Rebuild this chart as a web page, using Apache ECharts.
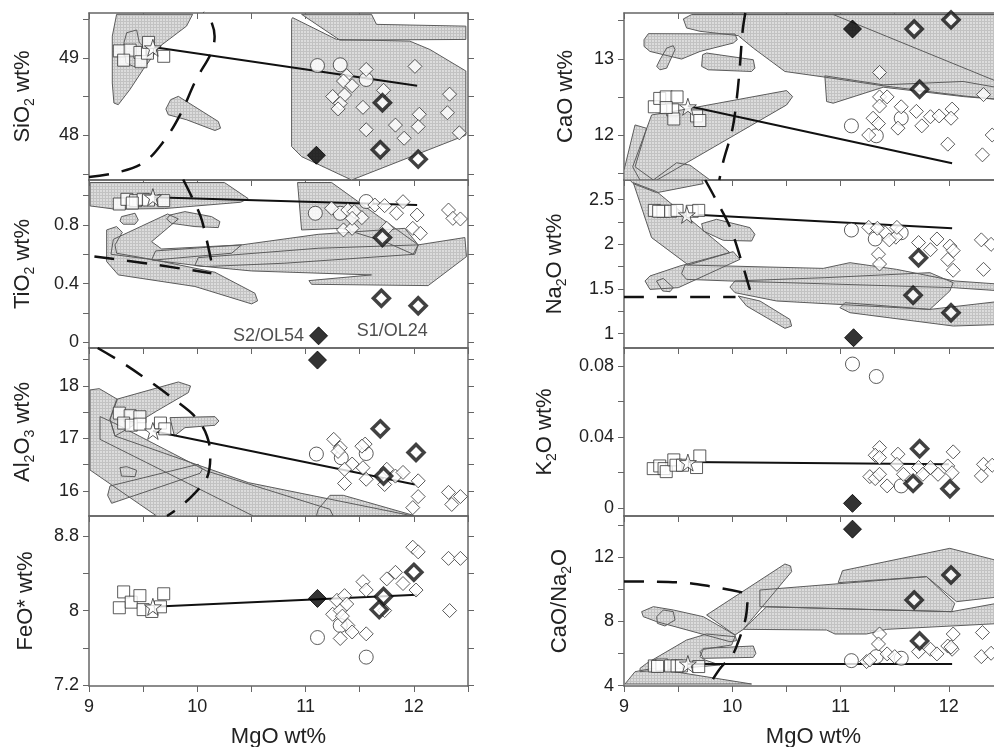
<!DOCTYPE html>
<html>
<head>
<meta charset="utf-8">
<title>MgO variation diagrams</title>
<script src="https://cdn.jsdelivr.net/npm/echarts@6.0.0/dist/echarts.min.js"></script>
<style>
  html, body { margin: 0; padding: 0; background: #fff; }
  #chart { width: 994px; height: 747px; }
</style>
</head>
<body>
<div id="chart"></div>
<script>
// Panels: 0-3 left column (top to bottom), 4-7 right column
const panelNames = ['SiO{s|2} wt%', 'TiO{s|2} wt%', 'Al{s|2}O{s|3} wt%', 'FeO* wt%',
                    'CaO wt%', 'Na{s|2}O wt%', 'K{s|2}O wt%', 'CaO/Na{s|2}O'];
const xName = 'MgO wt%';
const yMin = [47.42, -0.04, 15.52, 7.19, 11.41, 0.84, -0.0043, 3.98];
const yMax = [49.58, 1.107, 18.72, 9.015, 13.6, 2.72, 0.090, 14.57];
const yLabels = [[48, 49], [0, 0.4, 0.8], [16, 17, 18], [7.2, 8, 8.8],
                 [12, 13], [1, 1.5, 2, 2.5], [0, 0.04, 0.08], [4, 8, 12]];
const yTicks = [[47.5, 48, 48.5, 49, 49.5], [0, 0.2, 0.4, 0.6, 0.8, 1.0], [16, 16.5, 17, 17.5, 18, 18.5], [7.2, 7.6, 8, 8.4, 8.8],
                [11.5, 12, 12.5, 13, 13.5], [1, 1.25, 1.5, 1.75, 2, 2.25, 2.5], [0, 0.02, 0.04, 0.06, 0.08], [4, 6, 8, 10, 12, 14]];
const sampleNames = ['S2/OL54', 'S1/OL24'];

const squares = [
  [[9.28, 49.09], [9.38, 49.10], [9.32, 48.97], [9.47, 49.07], [9.48, 48.95], [9.54, 49.06], [9.55, 49.2], [9.69, 49.02]],
  [[9.28, 0.943], [9.35, 0.975], [9.43, 0.966], [9.50, 0.975], [9.55, 0.97], [9.69, 0.966], [9.40, 0.95]],
  [[9.28, 17.48], [9.38, 17.43], [9.47, 17.41], [9.32, 17.29], [9.39, 17.25], [9.47, 17.27], [9.66, 17.29], [9.70, 17.18]],
  [[9.28, 8.03], [9.32, 8.20], [9.39, 8.09], [9.47, 8.16], [9.50, 8.01], [9.58, 7.99], [9.66, 8.04], [9.69, 8.18]],
  [[9.28, 12.37], [9.33, 12.48], [9.39, 12.50], [9.49, 12.50], [9.45, 12.33], [9.46, 12.21], [9.67, 12.25], [9.70, 12.19], [9.39, 12.36]],
  [[9.28, 2.38], [9.36, 2.37], [9.43, 2.37], [9.49, 2.38], [9.63, 2.37], [9.69, 2.38], [9.32, 2.37]],
  [[9.27, 0.0223], [9.33, 0.0238], [9.37, 0.0223], [9.39, 0.0206], [9.46, 0.0272], [9.48, 0.0242], [9.54, 0.0242], [9.67, 0.0229], [9.70, 0.0294]],
  [[9.28, 5.23], [9.35, 5.29], [9.43, 5.23], [9.49, 5.23], [9.53, 5.23], [9.69, 5.19], [9.31, 5.2]]
];
const stars = [[9.59, 49.13], [9.59, 0.99], [9.59, 17.14], [9.59, 8.04], [9.59, 12.37], [9.58, 2.33], [9.59, 0.0257], [9.59, 5.35]];
const circles = [
  [[11.11, 48.90], [11.32, 48.91], [11.56, 48.72]],
  [[11.09, 0.88], [11.32, 0.88], [11.56, 0.96]],
  [[11.10, 16.70], [11.33, 16.63], [11.56, 16.71]],
  [[11.11, 7.71], [11.32, 7.84], [11.56, 7.50]],
  [[11.10, 12.12], [11.33, 11.99], [11.56, 12.22]],
  [[11.10, 2.16], [11.32, 2.06], [11.56, 2.13]],
  [[11.11, 0.081], [11.33, 0.074], [11.56, 0.0126]],
  [[11.10, 5.56], [11.33, 5.81], [11.56, 5.71]]
];
const diamonds = [
  [[12.01, 48.89], [11.56, 48.85], [11.38, 48.77], [11.35, 48.70], [11.43, 48.64], [11.25, 48.50], [11.36, 48.52], [11.32, 48.41], [11.30, 48.34], [11.53, 48.36],
   [11.72, 48.58], [11.56, 48.07], [11.83, 48.13], [11.91, 47.96], [12.05, 48.27], [12.04, 48.11], [12.33, 48.53], [12.31, 48.29], [12.42, 48.03]],
  [[11.24, 0.914], [11.39, 0.902], [11.45, 0.891], [11.52, 0.85], [11.64, 0.936], [11.73, 0.932], [11.90, 0.959], [11.84, 0.88], [11.35, 0.766], [11.43, 0.777],
   [11.75, 0.777], [11.99, 0.777], [12.06, 0.743], [12.32, 0.902], [12.36, 0.845], [12.43, 0.841], [12.03, 0.868], [11.43, 0.845]],
  [[11.26, 16.98], [11.32, 16.82], [11.43, 16.51], [11.36, 16.41], [11.53, 16.44], [11.56, 16.22], [11.36, 16.14], [11.55, 16.89], [11.75, 16.41], [11.83, 16.28],
   [11.90, 16.35], [12.04, 16.19], [12.04, 15.89], [11.99, 15.68], [12.32, 15.97], [12.35, 15.74], [12.43, 15.89], [11.73, 16.12], [11.30, 16.75], [11.52, 16.85]],
  [[11.29, 8.11], [11.36, 8.16], [11.25, 7.96], [11.32, 8.0], [11.38, 8.07], [11.39, 7.84], [11.32, 7.70], [11.43, 7.77], [11.53, 8.31], [11.56, 8.22], [11.56, 7.75],
   [11.75, 8.34], [11.83, 8.41], [11.90, 8.29], [11.99, 8.68], [12.04, 8.63], [12.02, 8.22], [12.32, 8.56], [12.43, 8.56], [12.33, 8.0], [11.73, 8.0], [11.34, 7.94]],
  [[11.36, 12.82], [11.36, 12.50], [11.43, 12.50], [11.36, 12.38], [11.30, 12.22], [11.35, 12.15], [11.26, 12.0], [11.53, 12.09], [11.56, 12.37], [11.70, 12.31],
   [11.75, 12.12], [11.83, 12.24], [11.91, 12.25], [12.03, 12.34], [12.02, 12.22], [11.99, 11.88], [12.32, 12.53], [12.31, 11.74], [12.40, 12.0]],
  [[11.26, 2.19], [11.41, 2.13], [11.51, 2.08], [11.72, 2.02], [11.89, 2.06], [11.83, 1.94], [12.01, 1.98], [12.04, 1.93], [11.99, 1.83], [12.04, 1.71],
   [12.30, 2.05], [12.39, 2.0], [12.32, 1.72], [11.35, 1.89], [11.36, 1.78], [11.52, 2.19], [11.45, 2.05], [11.34, 2.18]],
  [[11.36, 0.0341], [11.32, 0.0298], [11.36, 0.0285], [11.27, 0.0178], [11.32, 0.0167], [11.36, 0.0191], [11.43, 0.0126], [11.53, 0.0304], [11.52, 0.0247], [11.58, 0.0191],
   [11.72, 0.0229], [11.76, 0.0191], [11.83, 0.0229], [11.90, 0.0191], [11.99, 0.0238], [12.04, 0.0317], [12.03, 0.02], [12.32, 0.0247], [12.30, 0.0182], [12.40, 0.0242]],
  [[11.36, 7.22], [11.35, 6.60], [11.43, 5.98], [11.24, 5.50], [11.50, 5.81], [11.72, 6.12], [11.83, 6.27], [11.89, 5.98], [11.99, 6.47], [12.03, 6.27],
   [12.04, 7.22], [12.31, 7.31], [12.30, 5.81], [12.39, 6.02], [11.27, 5.6], [12.02, 6.4]]
];
const boldDiamonds = [
  [[11.71, 48.42], [11.69, 47.81], [12.04, 47.69]],
  [[11.71, 0.715], [11.70, 0.30], [12.04, 0.248]],
  [[11.69, 17.18], [12.02, 16.73], [11.72, 16.28]],
  [[12.0, 8.41], [11.72, 8.15], [11.68, 8.01]],
  [[11.68, 13.39], [12.02, 13.51], [11.73, 12.60]],
  [[11.72, 1.85], [11.67, 1.43], [12.02, 1.235]],
  [[11.73, 0.0335], [11.67, 0.014], [12.01, 0.011]],
  [[12.02, 10.90], [11.68, 9.34], [11.73, 6.79]]
];
const filledDiamonds = [[11.10, 47.74], [11.12, 0.043], [11.11, 18.49], [11.11, 8.13], [11.11, 13.39], [11.12, 0.955], [11.11, 0.0028], [11.11, 13.75]];
const trends = [
  [[9.59, 49.14], [12.03, 48.64]],
  [[9.59, 0.99], [12.03, 0.936]],
  [[9.59, 17.14], [12.01, 16.12]],
  [[9.59, 8.04], [12.03, 8.17]],
  [[9.59, 12.38], [12.03, 11.63]],
  [[9.58, 2.336], [12.03, 2.179]],
  [[9.59, 0.026], [12.0, 0.0247]],
  [[9.59, 5.35], [12.03, 5.35]]
];
const dashedCurves = [
  [[[9.0, 47.46], [9.24, 47.51], [9.50, 47.64], [9.69, 47.92], [9.84, 48.26], [9.99, 48.72], [10.13, 49.07], [10.16, 49.28], [10.12, 49.50], [10.06, 49.6]]],
  [[[9.05, 0.585], [9.6, 0.53], [10.13, 0.47]],
   [[9.87, 1.11], [9.95, 0.99], [10.03, 0.86], [10.08, 0.72], [10.13, 0.55]]],
  [[[9.08, 18.72], [9.3, 18.45], [9.55, 18.1], [9.78, 17.75], [9.99, 17.39], [10.09, 17.04], [10.12, 16.66], [10.09, 16.25], [9.98, 15.96], [9.85, 15.71], [9.72, 15.52]]],
  [],
  [[[10.12, 13.6], [10.095, 13.36], [10.07, 12.90], [10.04, 12.46], [10.0, 12.07], [9.92, 11.67], [9.88, 11.41]]],
  [[[9.0, 1.41], [10.03, 1.41]],
   [[9.75, 2.72], [9.84, 2.52], [9.98, 2.19], [10.08, 1.83], [10.17, 1.46]]],
  [],
  [[[9.0, 10.49], [9.49, 10.44], [9.79, 10.2], [10.1, 9.80]],
   [[10.14, 9.2], [10.12, 8.1], [10.05, 6.64], [10.0, 5.9], [9.9, 5.18], [9.82, 4.4]]]
];
const fields = [
  [ // SiO2
    [[9.255, 49.563], [9.957, 49.563], [9.90, 49.41], [9.655, 49.15], [9.578, 49.0], [9.50, 48.85], [9.378, 48.59], [9.27, 48.394], [9.23, 48.416], [9.215, 48.675], [9.215, 49.28]],
    [[9.348, 49.325], [9.44, 49.36], [9.465, 49.195], [9.532, 49.108], [9.532, 48.89], [9.41, 48.89], [9.34, 48.935], [9.323, 49.195]],
    [[9.825, 48.502], [10.194, 48.177], [10.215, 48.09], [10.163, 48.06], [9.90, 48.20], [9.732, 48.264], [9.71, 48.338], [9.754, 48.459]],
    [[10.88, 49.52], [11.286, 49.238], [11.963, 49.216], [12.148, 49.108], [12.48, 48.83], [12.48, 48.0], [11.425, 47.42], [10.963, 47.723], [10.871, 47.853], [10.871, 49.498]],
    [[10.963, 49.563], [11.609, 49.563], [11.655, 49.433], [12.48, 49.41], [12.48, 49.238], [11.317, 49.229]]
  ],
  [ // TiO2
    [[9.01, 1.09], [10.25, 1.09], [10.47, 0.98], [10.40, 0.955], [9.70, 0.912], [9.24, 0.908], [9.01, 0.93]],
    [[9.30, 0.857], [9.425, 0.88], [9.455, 0.834], [9.425, 0.805], [9.317, 0.805], [9.286, 0.827]],
    [[9.748, 0.868], [9.886, 0.891], [10.132, 0.857], [10.209, 0.823], [10.194, 0.782], [9.978, 0.789], [9.763, 0.811], [9.717, 0.841]],
    [[9.163, 0.766], [9.255, 0.789], [9.308, 0.75], [9.24, 0.664], [9.255, 0.607], [9.609, 0.561], [10.163, 0.477], [10.532, 0.334], [10.557, 0.282], [10.502, 0.261], [9.978, 0.38], [9.271, 0.459], [9.163, 0.55]],
    [[9.203, 0.60], [9.225, 0.702], [9.726, 0.875], [9.825, 0.841], [9.578, 0.686], [9.671, 0.636], [10.409, 0.664], [10.317, 0.607], [9.609, 0.561]],
    [[10.926, 1.09], [11.24, 1.09], [12.04, 0.664], [11.994, 0.60], [11.732, 0.686], [11.332, 0.777], [10.963, 0.766]],
    [[9.578, 0.561], [9.615, 0.623], [10.409, 0.664], [11.117, 0.736], [11.917, 0.777], [12.04, 0.664], [12.009, 0.60], [10.809, 0.539], [10.071, 0.516]],
    [[9.978, 0.523], [10.009, 0.577], [11.117, 0.641], [12.04, 0.664], [12.471, 0.714], [12.486, 0.584], [12.132, 0.386], [11.055, 0.395], [11.031, 0.42], [11.609, 0.459], [10.502, 0.486]]
  ],
  [ // Al2O3
    [[9.009, 17.921], [9.095, 17.946], [9.262, 17.743], [9.194, 17.362], [9.24, 17.044], [10.471, 16.156], [11.994, 15.52], [9.625, 15.52], [9.009, 16.397]],
    [[9.255, 17.743], [9.825, 18.073], [9.938, 17.997], [9.917, 17.87], [9.625, 17.52], [9.348, 17.171], [9.24, 17.044], [9.194, 17.362]],
    [[9.102, 17.413], [9.225, 17.298], [10.086, 16.378], [11.225, 15.648], [11.255, 15.52], [10.517, 15.52], [9.102, 16.98]],
    [[9.748, 17.394], [10.163, 17.413], [10.2, 17.33], [10.163, 17.248], [9.886, 17.203], [9.788, 17.044]],
    [[9.194, 16.092], [10.009, 16.505], [10.046, 16.41], [10.025, 16.333], [9.209, 15.762], [9.172, 15.914]],
    [[9.286, 16.441], [9.348, 16.46], [9.44, 16.39], [9.425, 16.27], [9.30, 16.28]],
    [[11.10, 15.52], [11.117, 15.65], [11.225, 15.914], [11.348, 15.914], [12.0, 15.53]]
  ],
  [],
  [ // CaO
    [[9.548, 13.522], [9.625, 13.58], [12.5, 13.58], [12.5, 12.461], [12.132, 12.513], [11.394, 12.645], [10.855, 12.759], [10.486, 12.833], [10.194, 13.14], [10.055, 13.303], [9.702, 13.36], [9.578, 13.404]],
    [[10.855, 12.776], [11.394, 12.658], [12.132, 12.702], [12.5, 12.61], [12.5, 12.461], [12.132, 12.504], [11.394, 12.627], [10.932, 12.417], [10.871, 12.439]],
    [[10.932, 13.58], [12.5, 12.67], [12.5, 13.58]],
    [[9.185, 13.25], [9.225, 13.329], [10.025, 13.325], [10.046, 13.25], [10.009, 13.206], [9.702, 13.096], [9.532, 12.996], [9.24, 13.096], [9.185, 13.162]],
    [[9.332, 12.987], [9.394, 13.14], [9.455, 13.171], [9.471, 13.118], [9.394, 12.877], [9.332, 12.855], [9.302, 12.90]],
    [[9.726, 13.053], [9.763, 13.075], [10.194, 12.987], [10.209, 12.877], [10.178, 12.833], [9.778, 12.855], [9.717, 12.90]],
    [[9.08, 11.583], [9.255, 12.263], [9.532, 12.329], [10.502, 12.583], [10.557, 12.504], [10.502, 12.395], [9.302, 11.408], [9.148, 11.408]],
    [[9.0, 11.539], [9.102, 12.132], [9.209, 12.088], [9.102, 11.583], [9.271, 11.41], [9.0, 11.41]],
    [[9.271, 11.41], [9.486, 11.636], [9.609, 11.605], [9.794, 11.41]]
  ],
  [ // Na2O
    [[9.086, 2.69], [9.302, 2.59], [9.978, 1.907], [9.594, 1.769], [9.255, 2.075]],
    [[9.055, 2.72], [9.717, 2.72], [9.732, 2.679], [9.302, 2.578], [9.086, 2.679]],
    [[9.717, 2.231], [9.855, 2.28], [10.163, 2.187], [10.209, 2.112], [10.178, 2.037], [9.917, 2.045], [9.732, 2.149]],
    [[9.194, 1.59], [9.24, 1.646], [9.517, 1.758], [10.009, 1.918], [10.071, 1.832], [9.501, 1.515], [9.24, 1.496]],
    [[9.30, 1.59], [9.363, 1.619], [9.455, 1.515], [9.425, 1.47], [9.357, 1.478]],
    [[9.532, 1.672], [9.563, 1.769], [10.84, 1.731], [11.086, 1.795], [11.517, 1.72], [12.055, 1.59], [12.5, 1.552], [12.5, 1.478], [12.04, 1.515], [9.978, 1.59], [9.578, 1.608]],
    [[9.978, 1.522], [10.025, 1.59], [10.855, 1.627], [11.825, 1.683], [12.04, 1.571], [12.009, 1.478], [11.825, 1.272], [10.409, 1.366], [10.025, 1.459]],
    [[10.994, 1.291], [11.04, 1.347], [11.825, 1.272], [12.5, 1.366], [12.5, 1.104], [12.04, 1.086], [11.086, 1.235]],
    [[10.055, 1.422], [10.255, 1.366], [10.532, 1.16], [10.548, 1.086], [10.486, 1.06], [10.132, 1.31]]
  ],
  [],
  [ // CaO/Na2O
    [[10.978, 10.417], [11.018, 11.165], [12.009, 12.557], [12.5, 11.7], [12.5, 9.56], [12.071, 9.234], [11.794, 10.791]],
    [[10.255, 9.96], [11.794, 10.791], [12.055, 9.13], [12.025, 8.611], [10.255, 8.922]],
    [[10.102, 7.51], [10.317, 8.922], [12.025, 8.611], [12.5, 9.2], [12.5, 7.884], [11.425, 7.51], [11.24, 7.219], [10.948, 7.219], [10.871, 7.468]],
    [[9.763, 8.403], [10.486, 11.58], [10.538, 11.456], [10.548, 11.103], [10.102, 7.51], [10.025, 7.157]],
    [[9.163, 8.611], [9.271, 8.922], [9.455, 8.715], [9.732, 8.299], [10.025, 7.157], [10.04, 6.804], [9.978, 6.741], [9.302, 7.988], [9.178, 8.299]],
    [[9.302, 8.299], [9.363, 8.715], [9.455, 8.611], [9.471, 8.091], [9.378, 7.718], [9.308, 7.884]],
    [[9.702, 6.118], [9.732, 6.326], [10.194, 6.471], [10.218, 6.015], [10.194, 5.765], [9.732, 5.703]],
    [[9.148, 5.08], [9.209, 5.391], [9.578, 6.845], [9.763, 7.219], [10.025, 7.053], [9.994, 6.534], [9.732, 6.264], [9.702, 5.807], [9.748, 5.599], [9.886, 5.288], [9.148, 4.872]],
    [[9.009, 4.104], [9.102, 4.872], [9.271, 5.08], [10.178, 4.104]]
  ]
];

// layout
const colLeft = [89, 624];
const rowTop = [13, 180, 348, 516];
const rowH = [167, 168, 168, 170];
const plotW = 379;
const nameGaps = [52, 52, 52, 52, 47, 55, 65, 50];
const FONT = '"Liberation Sans", Arial, sans-serif';
const INK = '#222';
const FRAME = '#666';

function hatchCanvas() {
    const c = document.createElement('canvas');
    c.width = 3; c.height = 3;
    const g = c.getContext('2d');
    g.fillStyle = '#dcdcdc';
    g.fillRect(0, 0, 3, 3);
    g.fillStyle = '#c2c2c2';
    g.fillRect(0, 0, 3, 1);
    g.fillRect(0, 0, 1, 3);
    return c;
}
const hatch = { image: hatchCanvas(), repeat: 'repeat' };
const starPath = 'path://M50,0 L61.8,35.1 L98.9,35.1 L69.1,56.7 L80.3,91.5 L50,70 L19.7,91.5 L30.9,56.7 L1.1,35.1 L38.2,35.1 Z';

const grids = [], xAxes = [], yAxes = [], series = [];

for (let i = 0; i < 8; i++) {
    const col = i < 4 ? 0 : 1;
    const row = i % 4;
    const last = row === 3;
    // right column runs past the page edge, as in the source figure
    grids.push({ left: colLeft[col], top: rowTop[row], width: plotW, height: rowH[row],
                 outerBoundsMode: 'none', containLabel: false });

    const lineStyle = { color: FRAME, width: 1.5 };
    xAxes.push({
        gridIndex: i, type: 'value', position: 'bottom', min: 9, max: 12.5, interval: 0.5,
        axisLine: { show: true, onZero: false, lineStyle },
        axisTick: { show: last, length: 6, lineStyle: { color: FRAME } },
        axisLabel: { show: last, margin: 12, fontSize: 18, color: INK, fontFamily: FONT,
                     formatter: v => (v % 1 === 0 ? String(v) : '') },
        splitLine: { show: false },
        name: last ? xName : '', nameLocation: 'middle', nameGap: 40,
        nameTextStyle: { fontSize: 22, color: INK, fontFamily: FONT }
    });
    xAxes.push({
        gridIndex: i, type: 'value', position: 'top', min: 9, max: 12.5, interval: 0.5,
        axisLine: { show: true, onZero: false, lineStyle },
        axisTick: { show: true, inside: true, length: 6, lineStyle: { color: FRAME } },
        axisLabel: { show: false }, splitLine: { show: false }
    });
    yAxes.push({
        gridIndex: i, type: 'value', position: 'left', min: yMin[i], max: yMax[i],
        axisLine: { show: true, onZero: false, lineStyle },
        axisTick: { show: true, length: 6, customValues: yTicks[i], lineStyle: { color: FRAME } },
        axisLabel: { show: true, customValues: yLabels[i], margin: 10, fontSize: 18, color: INK, fontFamily: FONT },
        splitLine: { show: false },
        name: panelNames[i], nameLocation: 'middle', nameRotate: 90, nameGap: nameGaps[i],
        nameTextStyle: { fontSize: 22, color: INK, fontFamily: FONT,
                         rich: { s: { fontSize: 14, color: INK, fontFamily: FONT, padding: [14, 0, 0, 0] } } }
    });
    yAxes.push({
        gridIndex: i, type: 'value', position: 'right', min: yMin[i], max: yMax[i],
        axisLine: { show: true, onZero: false, lineStyle },
        axisTick: { show: true, length: 6, customValues: yTicks[i], lineStyle: { color: FRAME } },
        axisLabel: { show: false }, splitLine: { show: false }
    });

    const ax = { xAxisIndex: 2 * i, yAxisIndex: 2 * i };
    const polys = fields[i];
    if (polys.length) {
        // fills first, then every outline on top so overlaps stay visible
        series.push({
            type: 'custom', ...ax, clip: true, silent: true, z: 1,
            data: polys.map(p => p[0]),
            renderItem: (params, api) => ({
                type: 'polygon',
                shape: { points: polys[params.dataIndex].map(pt => api.coord(pt)) },
                style: { fill: hatch, stroke: null }
            })
        });
        series.push({
            type: 'custom', ...ax, clip: true, silent: true, z: 2,
            data: polys.map(p => p[0]),
            renderItem: (params, api) => ({
                type: 'polygon',
                shape: { points: polys[params.dataIndex].map(pt => api.coord(pt)) },
                style: { fill: null, stroke: '#5c5c5c', lineWidth: 1 }
            })
        });
    }

    dashedCurves[i].forEach(curve => {
        series.push({
            type: 'line', ...ax, data: curve, smooth: 0.35, showSymbol: false, silent: true, z: 3,
            lineStyle: { color: '#111', width: 2.5, type: [20, 13] }
        });
    });

    series.push({
        type: 'line', ...ax, data: trends[i], showSymbol: false, silent: true, z: 4,
        lineStyle: { color: '#111', width: 2 }
    });

    const open = (bw) => ({ color: '#fff', borderColor: '#333', borderWidth: bw });
    series.push({ type: 'scatter', ...ax, z: 5, symbol: 'rect', symbolSize: 12, itemStyle: open(1), data: squares[i] });
    series.push({ type: 'scatter', ...ax, z: 6, symbol: starPath, symbolSize: 17, itemStyle: open(1), data: [stars[i]] });
    series.push({ type: 'scatter', ...ax, z: 5, symbol: 'circle', symbolSize: 14, itemStyle: open(1), data: circles[i] });
    series.push({ type: 'scatter', ...ax, z: 5, symbol: 'diamond', symbolSize: 14, itemStyle: open(1), data: diamonds[i] });

    const boldData = boldDiamonds[i].map((p, k) => {
        if (i === 1 && k === 2) {
            return { value: p, label: { show: true, formatter: sampleNames[1], position: 'bottom', offset: [-26, 1],
                                        fontSize: 18, color: INK, fontFamily: FONT } };
        }
        return p;
    });
    series.push({ type: 'scatter', ...ax, z: 7, symbol: 'diamond', symbolSize: 16,
                  itemStyle: { color: '#fff', borderColor: '#111', borderWidth: 3.5 }, data: boldData });

    const filledItem = i === 1
        ? { value: filledDiamonds[i], label: { show: true, formatter: sampleNames[0], position: 'left', distance: 5,
                                               fontSize: 18, color: INK, fontFamily: FONT } }
        : filledDiamonds[i];
    series.push({ type: 'scatter', ...ax, z: 7, symbol: 'diamond', symbolSize: 18,
                  itemStyle: { color: '#000', borderColor: '#000', borderWidth: 1 }, data: [filledItem] });
}

const chart = echarts.init(document.getElementById('chart'));
chart.setOption({
    animation: false,
    backgroundColor: '#fff',
    grid: grids,
    xAxis: xAxes,
    yAxis: yAxes,
    series: series
});
</script>
</body>
</html>
